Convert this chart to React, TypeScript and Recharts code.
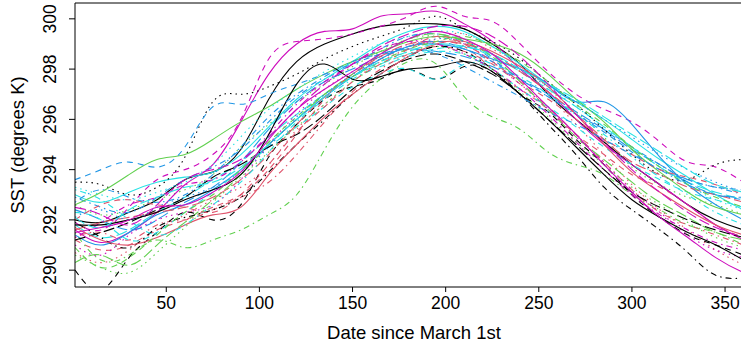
import React from "react";
import { LineChart, Line, XAxis, YAxis, ReferenceLine } from "recharts";

const DAYS = [1, 15, 30, 45, 60, 75, 90, 105, 120, 135, 150, 165, 180, 195, 210, 225, 240, 255, 270, 285, 300, 315, 330, 345, 360, 365];
const X_TICKS = [50, 100, 150, 200, 250, 300, 350];
const Y_TICKS = [290, 292, 294, 296, 298, 300];
const X_TITLE = "Date since March 1st";
const Y_TITLE = "SST (degrees K)";

const c01 = [292.0, 291.9, 292.3, 292.8, 293.6, 293.9, 294.8, 296.8, 298.3, 299.0, 299.4, 299.7, 299.8, 299.8, 299.6, 299.0, 298.2, 297.0, 296.0, 295.1, 294.2, 293.4, 292.6, 292.0, 291.6, 291.5];
const c02 = [291.2, 290.8, 291.0, 291.6, 292.0, 292.5, 293.0, 294.0, 295.4, 296.8, 297.8, 298.4, 298.9, 299.1, 298.9, 298.0, 297.2, 296.4, 295.4, 294.6, 293.8, 293.3, 292.6, 291.8, 291.3, 291.2];
const c03 = [292.6, 292.2, 292.4, 292.8, 293.2, 293.8, 294.9, 295.8, 296.7, 297.4, 298.1, 298.7, 299.2, 299.3, 299.0, 298.6, 297.9, 297.2, 296.3, 295.3, 294.1, 293.4, 292.9, 292.6, 292.2, 292.0];
const c04 = [292.9, 292.5, 292.3, 292.9, 293.6, 294.1, 294.8, 295.9, 296.9, 297.6, 298.2, 298.8, 299.3, 299.4, 299.1, 298.4, 297.6, 296.9, 296.2, 295.6, 294.9, 294.2, 293.6, 293.3, 293.0, 292.9];
const c05 = [291.8, 291.3, 291.6, 292.3, 292.9, 293.6, 294.3, 295.3, 296.2, 297.0, 297.7, 298.2, 298.6, 298.8, 298.9, 298.5, 297.9, 297.2, 296.5, 295.7, 294.9, 294.1, 293.5, 293.1, 292.8, 292.6];
const c06 = [291.6, 291.1, 291.5, 292.3, 293.4, 294.2, 295.9, 297.8, 299.0, 299.5, 299.6, 300.1, 300.2, 300.3, 299.8, 299.1, 298.0, 297.1, 296.0, 295.0, 294.2, 293.4, 292.6, 291.8, 291.2, 291.0];
const c07 = [290.0, 289.2, 290.5, 291.5, 292.3, 292.0, 292.6, 294.5, 295.8, 296.8, 297.3, 297.6, 298.0, 297.6, 298.1, 297.9, 297.0, 296.3, 295.2, 294.2, 293.0, 292.1, 291.4, 291.0, 290.6, 290.5];
const c08 = [290.7, 290.3, 290.8, 291.6, 292.2, 292.8, 293.3, 294.2, 295.6, 296.6, 297.5, 298.3, 298.8, 299.2, 299.4, 298.8, 298.2, 297.0, 295.8, 294.6, 293.4, 292.4, 291.6, 290.8, 290.2, 290.0];
const c09 = [291.5, 290.4, 290.6, 291.2, 290.9, 291.2, 291.6, 292.2, 293.0, 294.8, 296.5, 297.6, 298.3, 298.2, 296.9, 296.1, 295.6, 294.7, 294.2, 293.8, 293.0, 292.4, 291.8, 291.5, 291.0, 290.9];
const c10 = [292.4, 292.0, 291.6, 292.0, 292.7, 293.3, 294.3, 295.6, 296.7, 297.5, 298.0, 298.5, 298.8, 298.7, 298.5, 298.1, 297.6, 297.0, 296.3, 295.6, 294.8, 294.2, 293.5, 293.0, 292.9, 292.9];
const c11 = [293.0, 292.7, 293.1, 293.5, 293.7, 293.9, 294.6, 295.7, 296.8, 297.6, 298.3, 299.0, 299.5, 299.7, 299.5, 298.9, 298.2, 297.4, 296.7, 296.0, 295.2, 294.4, 293.7, 293.0, 292.4, 292.3];
const c12 = [291.9, 291.6, 292.5, 293.6, 294.0, 294.6, 296.0, 298.4, 299.1, 299.2, 299.4, 299.7, 300.1, 300.5, 300.1, 299.9, 299.0, 297.9, 297.0, 296.4, 295.9, 295.1, 294.3, 294.1, 293.5, 293.4];
const c13 = [293.5, 293.4, 293.0, 293.3, 294.5, 296.7, 297.0, 297.3, 297.8, 298.4, 298.9, 299.3, 299.7, 300.1, 299.6, 299.1, 298.4, 297.5, 296.6, 295.6, 294.6, 293.8, 293.6, 294.2, 294.4, 294.4];
const c14 = [291.3, 291.5, 291.2, 291.8, 292.0, 292.4, 292.9, 293.5, 294.6, 295.9, 297.1, 298.0, 298.6, 298.9, 298.7, 298.2, 297.4, 296.5, 295.4, 294.3, 293.2, 292.3, 291.8, 291.4, 291.0, 290.9];
const c15 = [290.3, 290.6, 290.2, 291.0, 291.9, 292.8, 293.8, 295.0, 296.0, 297.0, 297.8, 298.6, 299.2, 299.4, 299.1, 298.5, 297.5, 296.4, 295.3, 294.4, 293.5, 292.7, 292.1, 291.5, 291.2, 291.1];
const c16 = [291.4, 291.0, 291.5, 292.2, 292.6, 293.2, 294.0, 295.0, 296.0, 296.9, 297.7, 298.4, 298.9, 299.0, 298.8, 298.4, 298.0, 297.4, 296.7, 296.7, 295.8, 294.5, 293.4, 292.6, 292.0, 291.8];
const c17 = [292.3, 292.0, 291.2, 291.5, 292.3, 293.1, 294.0, 294.9, 295.7, 296.5, 297.3, 297.8, 298.0, 297.6, 298.2, 298.0, 297.2, 296.5, 295.7, 294.9, 294.2, 293.6, 293.1, 292.8, 292.5, 292.4];
const c18 = [291.0, 290.6, 291.4, 292.0, 292.3, 292.6, 293.6, 295.0, 296.2, 297.2, 297.9, 298.5, 299.0, 299.3, 299.0, 298.3, 297.4, 296.4, 295.3, 294.3, 293.2, 292.3, 291.4, 290.8, 290.5, 290.4];
const c19 = [291.9, 291.3, 290.9, 291.7, 292.1, 292.4, 292.9, 293.9, 295.0, 296.0, 297.0, 297.8, 298.5, 298.9, 298.7, 298.0, 297.0, 295.8, 294.6, 293.3, 292.4, 291.6, 290.7, 289.8, 289.7, 289.8];
const c20 = [291.6, 291.9, 292.1, 292.3, 292.5, 292.9, 293.6, 294.6, 295.8, 296.9, 297.8, 298.5, 299.0, 299.1, 299.0, 298.6, 297.9, 297.1, 296.2, 295.2, 294.3, 293.8, 293.3, 293.0, 292.7, 292.6];
const c21 = [292.6, 293.1, 293.8, 294.4, 294.6, 295.2, 295.9, 296.5, 297.2, 297.8, 298.3, 298.7, 299.1, 299.3, 299.2, 299.0, 298.6, 297.8, 296.8, 295.9, 294.8, 293.9, 293.1, 292.5, 292.2, 292.0];
const c22 = [293.6, 294.0, 294.3, 294.1, 294.9, 296.5, 296.6, 297.0, 297.4, 297.8, 298.2, 298.6, 298.9, 299.1, 298.8, 298.3, 297.6, 296.9, 296.2, 295.5, 294.7, 294.0, 293.6, 293.3, 293.2, 293.1];
const c23 = [293.3, 293.0, 292.8, 293.1, 293.5, 294.2, 295.3, 296.4, 297.2, 297.9, 298.5, 299.0, 299.3, 299.5, 299.4, 298.9, 298.1, 297.3, 296.5, 295.7, 294.9, 294.1, 293.4, 292.8, 292.4, 292.3];
const c24 = [291.3, 291.9, 292.6, 292.9, 293.4, 293.6, 294.3, 295.4, 296.6, 297.5, 298.2, 298.8, 299.1, 299.0, 298.6, 298.0, 297.2, 296.2, 295.1, 294.0, 293.0, 292.2, 291.6, 291.1, 290.8, 290.7];
const c25 = [291.2, 291.5, 291.9, 292.4, 292.9, 293.7, 294.2, 294.9, 295.4, 296.2, 297.2, 297.9, 298.4, 298.6, 298.3, 297.8, 297.0, 296.0, 295.0, 294.0, 293.1, 292.5, 292.0, 291.6, 291.3, 291.2];
const c26 = [291.7, 291.2, 291.0, 291.3, 291.8, 292.2, 292.5, 293.8, 295.0, 296.1, 297.0, 297.8, 298.5, 299.0, 299.1, 298.7, 298.1, 297.3, 296.2, 295.0, 293.9, 293.1, 292.4, 291.8, 291.4, 291.3];
const c27 = [290.9, 290.1, 290.5, 291.4, 292.3, 293.0, 294.0, 295.1, 296.1, 297.0, 297.7, 298.3, 298.8, 299.1, 299.3, 298.9, 298.3, 297.5, 296.6, 295.8, 294.9, 294.1, 293.4, 292.9, 292.5, 292.4];
const c28 = [292.1, 292.4, 292.0, 292.5, 292.9, 293.3, 293.9, 294.9, 296.1, 297.0, 297.8, 298.4, 298.9, 299.2, 299.1, 298.6, 298.0, 297.3, 296.7, 296.0, 295.3, 294.6, 294.0, 293.5, 293.1, 293.0];
const c29 = [293.2, 292.8, 292.0, 291.4, 291.8, 292.6, 293.5, 294.7, 295.9, 296.8, 297.6, 298.1, 298.5, 298.7, 298.6, 298.2, 297.7, 297.0, 296.2, 295.4, 294.5, 293.7, 293.0, 292.3, 291.8, 291.6];
const c30 = [292.5, 292.2, 291.8, 292.6, 293.6, 294.0, 294.4, 295.3, 296.4, 297.4, 298.2, 298.9, 299.4, 299.7, 299.7, 299.3, 298.5, 297.4, 296.2, 295.1, 294.0, 293.1, 292.3, 291.7, 291.3, 291.1];
const c31 = [291.8, 291.8, 292.0, 292.3, 292.8, 293.2, 293.8, 295.4, 297.4, 298.2, 297.6, 297.7, 298.0, 298.1, 298.3, 297.9, 297.0, 296.0, 294.9, 293.8, 292.8, 292.1, 291.5, 291.0, 290.4, 290.2];
const c32 = [292.0, 292.6, 292.8, 292.6, 292.5, 292.3, 293.0, 294.2, 295.5, 296.5, 297.5, 298.2, 298.8, 299.3, 299.0, 298.3, 297.5, 296.8, 296.0, 295.2, 294.6, 294.0, 293.7, 293.4, 293.0, 292.8];
const c33 = [290.6, 290.1, 289.9, 290.7, 291.7, 292.7, 293.7, 294.7, 295.7, 296.6, 297.5, 298.2, 298.7, 298.9, 298.6, 298.0, 297.1, 296.1, 295.1, 294.2, 293.3, 292.6, 291.9, 291.3, 290.9, 290.8];
const c34 = [292.7, 293.2, 292.9, 292.7, 293.0, 293.8, 294.9, 296.1, 297.0, 297.7, 298.3, 298.6, 298.8, 298.6, 298.1, 297.5, 296.9, 296.3, 295.8, 295.2, 294.6, 294.0, 293.4, 293.0, 292.8, 292.7];
const c35 = [292.1, 291.7, 292.4, 292.9, 293.3, 293.5, 294.1, 295.0, 296.0, 296.9, 297.7, 298.3, 298.7, 299.0, 298.9, 298.6, 298.0, 297.4, 296.8, 296.1, 295.4, 294.7, 294.0, 293.4, 293.1, 293.0];
const c36 = [291.5, 291.7, 292.0, 292.5, 292.6, 293.1, 293.9, 295.2, 296.4, 297.2, 297.9, 298.6, 299.2, 299.5, 299.2, 298.6, 297.6, 296.5, 295.4, 294.2, 293.1, 292.1, 291.3, 290.5, 289.9, 289.8];

const SERIES = [c01, c02, c03, c04, c05, c06, c07, c08, c09, c10, c11, c12, c13, c14, c15, c16, c17, c18,
  c19, c20, c21, c22, c23, c24, c25, c26, c27, c28, c29, c30, c31, c32, c33, c34, c35, c36];

const PALETTE = ["#000000", "#DF536B", "#61D04F", "#2297E6", "#28E2E5", "#CD0BBC"];
const DASHES = [undefined, "6 5", "1.5 4", "1.5 4 6 4", "11 4"];

const Y_MIN = 289.33;
const Y_MAX = 300.63;
const FONT = "'Liberation Sans', Arial, Helvetica, sans-serif";

const rows = DAYS.map((d, i) => {
  const r: Record<string, number> = { day: d };
  SERIES.forEach((s, k) => {
    r["s" + k] = s[i];
  });
  return r;
});

const YTick = (props: any) => {
  const { y, payload } = props;
  return (
    <text
      transform={`translate(50,${y}) rotate(-90)`}
      textAnchor="middle"
      dy="0.36em"
      fontSize={17.5}
      fontFamily={FONT}
      fill="#000"
    >
      {payload.value}
    </text>
  );
};

const XTick = (props: any) => {
  const { x, payload } = props;
  return (
    <text x={x} y={309} textAnchor="middle" fontSize={17.5} fontFamily={FONT} fill="#000">
      {payload.value}
    </text>
  );
};

export default function App() {
  return (
    <div style={{ position: "absolute", left: 0, top: 0, width: 741, height: 343, overflow: "hidden", background: "#fff" }}>
      <LineChart width={753} height={343} data={rows} margin={{ top: 3, right: 0, bottom: 0, left: 0 }}>
        <XAxis
          dataKey="day"
          type="number"
          domain={[1, 365]}
          ticks={X_TICKS}
          allowDataOverflow
          height={56}
          tickSize={5}
          tick={<XTick />}
          axisLine={{ stroke: "#000", strokeWidth: 1 }}
          tickLine={{ stroke: "#000", strokeWidth: 1 }}
        />
        <YAxis
          type="number"
          domain={[Y_MIN, Y_MAX]}
          ticks={Y_TICKS}
          allowDataOverflow
          width={75}
          tickSize={6}
          tick={<YTick />}
          axisLine={{ stroke: "#000", strokeWidth: 1 }}
          tickLine={{ stroke: "#000", strokeWidth: 1 }}
        />
        <ReferenceLine y={Y_MAX} stroke="#000" strokeWidth={1} ifOverflow="extendDomain" />
        {SERIES.map((_, k) => (
          <Line
            key={k}
            dataKey={"s" + k}
            type="natural"
            stroke={PALETTE[k % 6]}
            strokeDasharray={DASHES[k % 5]}
            strokeWidth={1.1}
            dot={false}
            activeDot={false}
            isAnimationActive={false}
          />
        ))}
      </LineChart>
      <svg width={741} height={343} style={{ position: "absolute", left: 0, top: 0, pointerEvents: "none" }}>
        <text x={414} y={339} textAnchor="middle" fontSize={18.5} fontFamily={FONT} fill="#000">
          {X_TITLE}
        </text>
        <text
          transform="translate(17,145) rotate(-90)"
          textAnchor="middle"
          dy="0.36em"
          fontSize={18.5}
          fontFamily={FONT}
          fill="#000"
        >
          {Y_TITLE}
        </text>
      </svg>
    </div>
  );
}
